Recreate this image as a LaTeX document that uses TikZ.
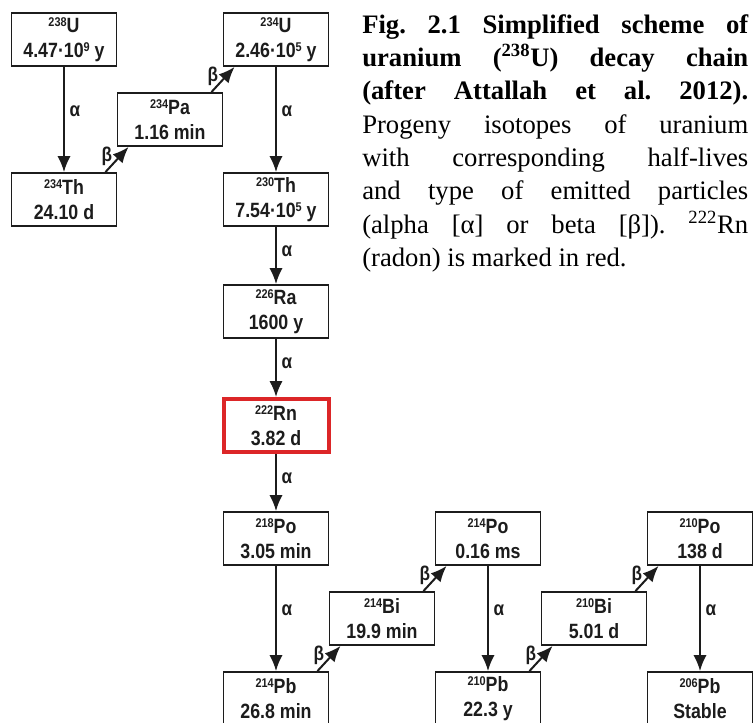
\documentclass[tikz,border=0pt]{standalone}
\usepackage{fontspec}
\setmainfont{Liberation Serif}
\newfontfamily\boxfont[FakeStretch=0.86]{Liberation Sans}
\usepackage{tikz}
\usetikzlibrary{arrows.meta,calc}
\definecolor{ink}{RGB}{28,28,28}
\definecolor{radon}{RGB}{220,38,40}
\newcommand{\iso}[1]{\raisebox{4.4pt}{\fontsize{9.5}{9.5}\selectfont#1}}
\frenchspacing

\begin{document}
\begin{tikzpicture}[x=0.75pt,y=-0.75pt,>={Latex[length=12pt,width=10pt]},
    nuc/.style={draw=ink,line width=1.4pt,fill=white,minimum width=78.75pt,minimum height=39.75pt,
      inner sep=0pt,align=center,text=ink,font=\boxfont\bfseries\fontsize{15.5}{18.5}\selectfont},
    rnbox/.style={nuc,draw=radon,line width=3pt},
    decay/.style={->,draw=ink,line width=1.5pt},
    alab/.style={right=2.5pt,pos=.42,inner sep=1pt,text=ink,font=\boxfont\bfseries\fontsize{15}{15}\selectfont},
    blab/.style={left=4pt,pos=.62,inner sep=1pt,text=ink,font=\boxfont\bfseries\fontsize{15}{15}\selectfont},
    caption/.style={anchor=north west,text width=289.5pt,align=justify,inner sep=0pt,
      font=\fontsize{20}{25}\selectfont}]
  \useasboundingbox (0,0) rectangle (753,722);
  \clip (0,0) rectangle (753,722);

  \node[nuc] (u238) at (64,39.5) {\iso{238}U\\4.47·10\iso{9} y};
  \node[nuc] (pa234) at (170,119.5) {\iso{234}Pa\\1.16 min};
  \node[nuc] (th234) at (64,199.5) {\iso{234}Th\\24.10 d};
  \node[nuc] (u234) at (276,39.5) {\iso{234}U\\2.46·10\iso{5} y};
  \node[nuc] (th230) at (276,199.5) {\iso{230}Th\\7.54·10\iso{5} y};
  \node[nuc] (ra226) at (276,311.5) {\iso{226}Ra\\1600 y};
  \node[rnbox] (rn222) at (276,425.5) {\iso{222}Rn\\3.82 d};
  \node[nuc] (po218) at (276,538.5) {\iso{218}Po\\3.05 min};
  \node[nuc] (pb214) at (276,698.5) {\iso{214}Pb\\26.8 min};
  \node[nuc] (bi214) at (382,618.5) {\iso{214}Bi\\19.9 min};
  \node[nuc] (po214) at (488,538.5) {\iso{214}Po\\0.16 ms};
  \node[nuc] (pb210) at (488,698.5) {\iso{210}Pb\\22.3 y};
  \node[nuc] (bi210) at (594,618.5) {\iso{210}Bi\\5.01 d};
  \node[nuc] (po210) at (700,538.5) {\iso{210}Po\\138 d};
  \node[nuc] (pb206) at (700,698.5) {\iso{206}Pb\\Stable};

  \draw[decay] (u238) -- node[alab] {α} (th234);
  \draw[decay] ([xshift=-9pt]th234.north east) -- node[blab] {β} ([xshift=9pt]pa234.south west);
  \draw[decay] ([xshift=-9pt]pa234.north east) -- node[blab] {β} ([xshift=9pt]u234.south west);
  \draw[decay] (u234) -- node[alab] {α} (th230);
  \draw[decay] (th230) -- node[alab] {α} (ra226);
  \draw[decay] (ra226) -- node[alab] {α} (rn222);
  \draw[decay] (rn222) -- node[alab] {α} (po218);
  \draw[decay] (po218) -- node[alab] {α} (pb214);
  \draw[decay] ([xshift=-9pt]pb214.north east) -- node[blab] {β} ([xshift=9pt]bi214.south west);
  \draw[decay] ([xshift=-9pt]bi214.north east) -- node[blab] {β} ([xshift=9pt]po214.south west);
  \draw[decay] (po214) -- node[alab] {α} (pb210);
  \draw[decay] ([xshift=-9pt]pb210.north east) -- node[blab] {β} ([xshift=9pt]bi210.south west);
  \draw[decay] ([xshift=-9pt]bi210.north east) -- node[blab] {β} ([xshift=9pt]po210.south west);
  \draw[decay] (po210) -- node[alab] {α} (pb206);

  \node[caption] (cap) at (362,14) {\noindent\textbf{Fig. 2.1 Simplified scheme of\linebreak
    uranium (\textsuperscript{238}U) decay chain\linebreak
    (after Attallah et al. 2012).}\linebreak
    Progeny isotopes of uranium\linebreak
    with corresponding half-lives\linebreak
    and type of emitted particles\linebreak
    (alpha [α] or beta [β]). \textsuperscript{222}Rn\linebreak
    (radon) is marked in red.};
\end{tikzpicture}
\end{document}
